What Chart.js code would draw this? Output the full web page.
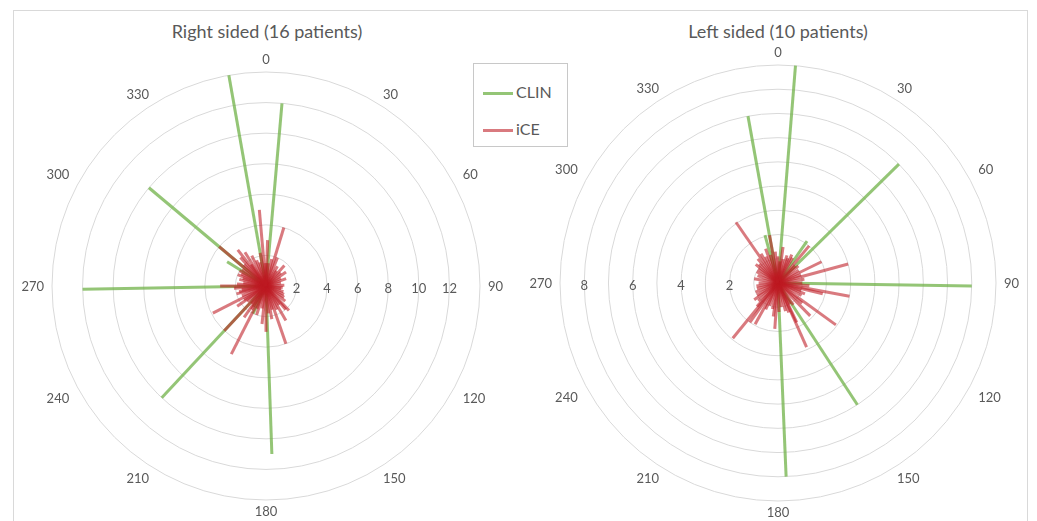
<!DOCTYPE html>
<html><head><meta charset="utf-8">
<script src="https://cdn.jsdelivr.net/npm/chart.js@4/dist/chart.umd.min.js"></script>
<style>
html,body{margin:0;padding:0;background:#fff;width:1037px;height:521px;overflow:hidden;font-family:Lato,sans-serif;}
.frame{position:absolute;left:13px;top:10px;width:1015px;height:540px;border:1px solid #d9d9d9;box-sizing:border-box;}
.title{position:absolute;top:19px;width:400px;font-size:18px;line-height:24px;color:#595959;text-align:center;white-space:nowrap;}
canvas{position:absolute;}
.legend{position:absolute;left:473px;top:63px;width:95px;height:84px;border:1px solid #c8c8c8;box-sizing:border-box;background:#fff;}
.legend .ln{position:absolute;left:9px;width:30px;height:3px;}
.legend .tx{position:absolute;left:42px;font-size:16px;line-height:20px;color:#595959;}
</style></head>
<body>
<div class="frame"></div>
<div class="title" style="left:67px">Right sided (16 patients)</div>
<div class="title" style="left:578px">Left sided (10 patients)</div>
<canvas id="cRight" width="540" height="521" style="left:-4px;top:0px"></canvas>
<canvas id="cLeft" width="540" height="521" style="left:508px;top:0px"></canvas>
<div class="legend">
  <div class="ln" id="lgClin" style="top:28px"></div><div class="tx" style="top:18px">CLIN</div>
  <div class="ln" id="lgIce" style="top:65px"></div><div class="tx" style="top:55px">iCE</div>
</div>
<script>
// ---- data ----
const angleLabels = ['0','30','60','90','120','150','180','210','240','270','300','330'];

// Right sided (16 patients)
const rsClinAngles = [350, 5, 310, 269, 223, 178, 302, 205, 212];
const rsClinValues = [14, 12, 10, 12, 10, 11, 3, 2, 1.6];
const rsIceAngles = [355, 17, 2, 22, 350, 322, 328, 318, 310, 300, 292, 284, 270, 262, 255, 243, 235, 223, 215, 207, 198, 186, 180, 170, 161, 150, 140, 137, 128, 115, 100, 88, 70, 55, 42, 30, 340, 335, 278, 248, 230, 190,
  5, 12, 35, 48, 62, 78, 95, 108, 122, 145, 155, 165, 175, 202, 212, 220, 238, 258, 266, 274, 288, 296, 305, 314, 325, 345, 358];
const rsIceValues = [5, 4, 3, 2, 2.2, 3, 2.6, 2.5, 4, 2, 2, 1.8, 3, 1.6, 2, 3.9, 2.3, 4, 2.5, 5, 2, 2.5, 3, 2.2, 4, 2.6, 2, 2.2, 1.6, 1.3, 1, 1.2, 1.4, 1.6, 1.8, 1.5, 1.8, 2.2, 1.5, 1.7, 1.6, 1.5,
  1.5, 1.8, 1.2, 1.3, 1.1, 1.0, 1.1, 1.2, 1.4, 1.5, 1.7, 1.6, 1.8, 1.6, 1.8, 1.5, 1.7, 1.8, 2.1, 1.9, 1.6, 1.8, 1.9, 2.0, 1.7, 1.6, 1.5];
const rsTicks = [2, 4, 6, 8, 10, 12];

// Left sided (10 patients)
const lsClinAngles = [4.6, 349.8, 45.5, 90.9, 146.9, 177.6, 34.8, 344.8];
const lsClinValues = [9, 7, 7, 8, 6, 8, 2.1, 2.05];
const lsIceAngles = [325.3, 219.3, 74.9, 100.5, 125.9, 156, 64, 103.6, 135.6, 40, 350, 215.5, 209, 184, 154.6, 0, 12, 22, 30, 50, 58, 82, 90, 112, 118, 145, 165, 172, 192, 200, 228, 240, 255, 270, 290, 305, 315, 335, 340, 355, 8,
  5, 18, 26, 45, 70, 95, 108, 130, 150, 160, 178, 188, 205, 222, 235, 248, 262, 280, 298, 310, 320, 330, 345];
const lsIceValues = [3.05, 2.95, 3, 3, 2.95, 2.9, 2, 1.9, 1.9, 2, 2, 2, 1.95, 1.9, 1.8, 1.1, 1.0, 1.1, 1.2, 1.1, 1.0, 1.1, 1.0, 1.2, 1.1, 1.1, 1.2, 1.0, 1.1, 1.0, 1.1, 1.0, 0.9, 0.8, 0.9, 1.0, 1.1, 1.2, 1.5, 1.3, 1.5,
  0.9, 1.2, 1.3, 1.0, 1.0, 1.3, 1.0, 1.3, 1.0, 1.3, 1.2, 1.4, 1.2, 1.3, 1.2, 1.0, 0.9, 1.0, 1.0, 1.2, 1.3, 1.4, 1.2];
const lsTicks = [2, 4, 6, 8];

const GREEN = 'rgba(112,178,72,0.75)';
const RED = 'rgba(190,25,35,0.58)';
document.getElementById('lgClin').style.background = GREEN;
document.getElementById('lgIce').style.background = RED;

const polarSpokes = {
  id: 'polarSpokes',
  afterDatasetsDraw(chart, args, o) {
    const s = chart.scales.r, ctx = chart.ctx;
    ctx.save();
    ctx.lineCap = 'butt';
    o.series.forEach(ser => {
      ctx.strokeStyle = ser.color; ctx.lineWidth = 3;
      ser.angles.forEach((a, i) => {
        const p = s.getPointPositionForValue(a / 30, ser.values[i]);
        ctx.beginPath(); ctx.moveTo(s.xCenter, s.yCenter); ctx.lineTo(p.x, p.y); ctx.stroke();
      });
    });
    ctx.font = '13px Lato'; ctx.fillStyle = '#595959';
    ctx.textAlign = 'center'; ctx.textBaseline = 'middle';
    const R = s.drawingArea;
    angleLabels.forEach((lab, i) => {
      const w = ctx.measureText(lab).width;
      const p = s.getPointPosition(i, R + 4);
      const sn = Math.round(Math.sin(i * Math.PI / 6) * 1000) / 1000;
      const cs = Math.round(Math.cos(i * Math.PI / 6) * 1000) / 1000;
      let x = p.x, y = p.y;
      if (cs === 0) { x = s.xCenter + Math.sign(sn) * (R + 8 + w / 2); y = s.yCenter; }
      else if (sn === 0) { y = cs > 0 ? s.yCenter - R - 13 : s.yCenter + R + 11; }
      else { x += Math.sign(sn) * (w / 2 + 8); y -= Math.sign(cs) * 3; }
      ctx.fillText(lab, x, y + 1);
    });
    o.ticks.forEach(v => {
      const d = s.getDistanceFromCenterForValue(v);
      ctx.fillText(String(v), s.xCenter + o.tickSide * d, s.yCenter + 3);
    });
    ctx.restore();
  }
};

function makeChart(id, max, step, padTop, padBottom, clinA, clinV, iceA, iceV, ticks, side) {
  return new Chart(document.getElementById(id), {
    type: 'radar',
    data: { labels: angleLabels, datasets: [] },
    options: {
      responsive: false, animation: false, events: [],
      layout: { padding: { top: padTop, bottom: padBottom, left: 0, right: 0 } },
      plugins: {
        legend: { display: false }, tooltip: { enabled: false },
        polarSpokes: { series: [
          { color: GREEN, angles: clinA, values: clinV },
          { color: RED, angles: iceA, values: iceV }
        ], ticks: ticks, tickSide: side }
      },
      scales: { r: {
        min: 0, max: max,
        ticks: { display: false, stepSize: step },
        grid: { circular: true, color: '#d9d9d9', lineWidth: 1 },
        angleLines: { display: false },
        pointLabels: { display: false }
      } }
    },
    plugins: [polarSpokes]
  });
}

makeChart('cRight', 14, 2, 72, 21, rsClinAngles, rsClinValues, rsIceAngles, rsIceValues, rsTicks, 1);
makeChart('cLeft', 9, 1, 65, 20, lsClinAngles, lsClinValues, lsIceAngles, lsIceValues, lsTicks, -1);
</script>
</body></html>
